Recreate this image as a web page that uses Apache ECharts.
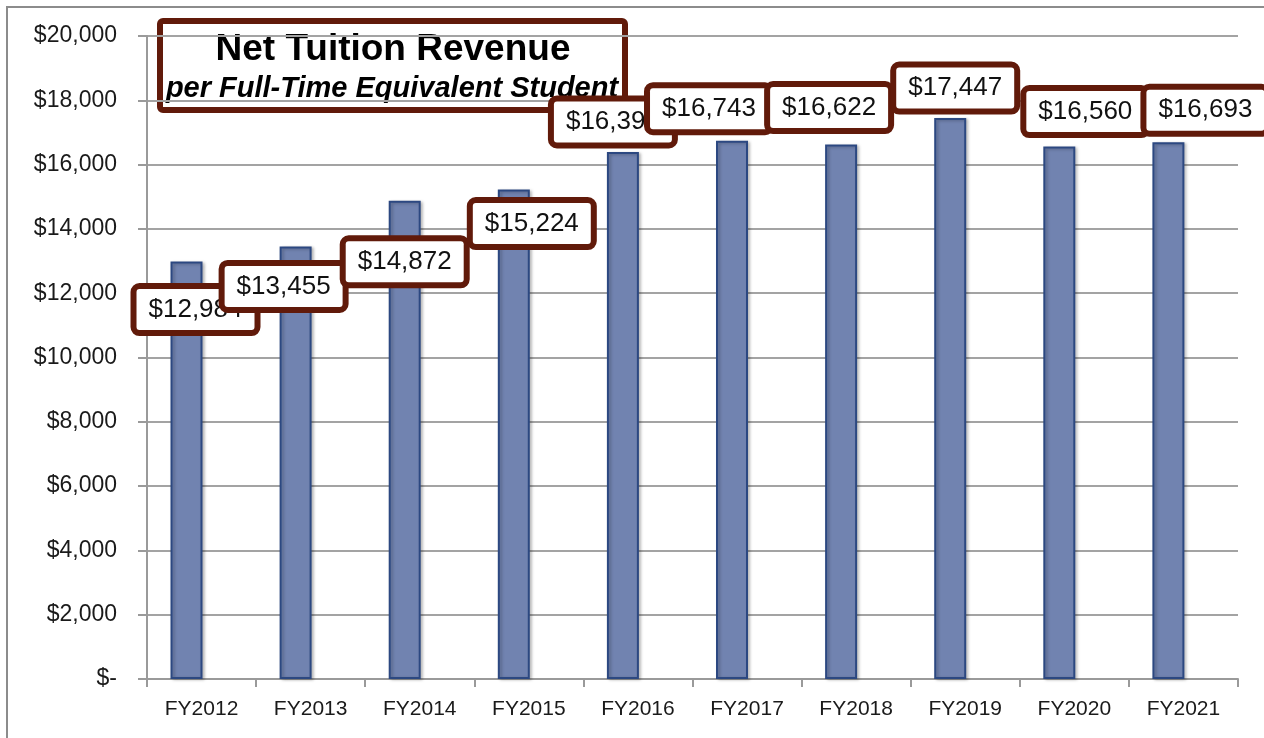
<!DOCTYPE html>
<html>
<head>
<meta charset="utf-8">
<script src="https://cdn.jsdelivr.net/npm/echarts@6/dist/echarts.min.js"></script>
<style>
html,body{margin:0;padding:0;background:#fff;}
#chart{width:1264px;height:738px;}
</style>
</head>
<body>
<div id="chart"></div>
<script>
const categories = ['FY2012','FY2013','FY2014','FY2015','FY2016','FY2017','FY2018','FY2019','FY2020','FY2021'];
const values = [12984, 13455, 14872, 15224, 16394, 16743, 16622, 17447, 16560, 16693];
const yTicks = [0, 2000, 4000, 6000, 8000, 10000, 12000, 14000, 16000, 18000, 20000];
const titleLine1 = 'Net Tuition Revenue';
const titleLine2 = 'per Full-Time Equivalent Student';
// label box offsets from bar top-centre (layout, manually placed in original)
const labelOffsets = [[9,48],[-12,40],[0,61],[18,34],[-10,-30],[-23,-32],[-12,-37],[5,-30],[26,-35],[37,-32]];

const FONT = 'Liberation Sans';
const fmt = v => v === 0 ? '$-' : '$' + v.toLocaleString('en-US');

const chart = echarts.init(document.getElementById('chart'));
chart.setOption({
  animation: false,
  backgroundColor: '#fff',
  textStyle: { fontFamily: FONT },
  grid: { left: 147, right: 26, top: 36, bottom: 59 },
  xAxis: {
    type: 'category',
    data: categories,
    axisLine: { show: true, lineStyle: { color: '#9a9a9a', width: 2 } },
    axisTick: { show: true, length: 8, lineStyle: { color: '#9a9a9a', width: 2 } },
    axisLabel: { color: '#1a1a1a', fontSize: 21, margin: 20, fontFamily: FONT }
  },
  yAxis: {
    type: 'value',
    min: yTicks[0], max: yTicks[yTicks.length-1], interval: yTicks[1]-yTicks[0],
    axisLine: { show: true, lineStyle: { color: '#9a9a9a', width: 2 } },
    axisTick: { show: true, length: 9, lineStyle: { color: '#9a9a9a', width: 2 } },
    splitLine: { show: true, lineStyle: { color: '#a3a3a3', width: 2 } },
    axisLabel: { color: '#1a1a1a', fontSize: 23, margin: 30, fontFamily: FONT, formatter: fmt }
  },
  series: [
    {
      type: 'bar',
      barWidth: 32,
      barGap: '-6%',
      itemStyle: { color: '#7183B0', borderColor: '#2C4881', borderWidth: 2,
                   shadowColor: 'rgba(0,0,0,0.25)', shadowBlur: 3, shadowOffsetX: 2, shadowOffsetY: 1 },
      data: values.map((v, i) => ({
        value: v,
        label: {
          show: true,
          position: ['50%', 0],
          align: 'center',
          verticalAlign: 'middle',
          offset: labelOffsets[i],
          formatter: p => fmt(p.value),
          fontFamily: FONT,
          fontSize: 26,
          lineHeight: 31,
          color: '#111',
          backgroundColor: '#fff',
          borderColor: '#611A0A',
          borderWidth: 6,
          borderRadius: 3,
          padding: [5, 12]
        }
      }))
    },
    {
      type: 'bar',
      barWidth: 32,
      barGap: '-6%',
      data: values.map(() => null)
    }
  ],
  graphic: [
    {
      type: 'rect', z: -10, silent: true,
      shape: { x: 7, y: 7, width: 1300, height: 800 },
      style: { fill: 'none', stroke: '#8c8c8c', lineWidth: 2 }
    },
    {
      type: 'group', z: 100,
      children: [
        {
          type: 'rect',
          shape: { x: 160, y: 21, width: 465, height: 89, r: 3 },
          style: { fill: '#fff', stroke: '#611A0A', lineWidth: 6 }
        },
        {
          type: 'text',
          style: { x: 393, y: 50, text: titleLine1, fill: '#000', font: 'bold 37px "Liberation Sans"', align: 'center', verticalAlign: 'middle' }
        },
        {
          type: 'text',
          style: { x: 392, y: 89, text: titleLine2, fill: '#000', font: 'italic bold 29px "Liberation Sans"', align: 'center', verticalAlign: 'middle' }
        }
      ]
    }
  ]
});
</script>
</body>
</html>
